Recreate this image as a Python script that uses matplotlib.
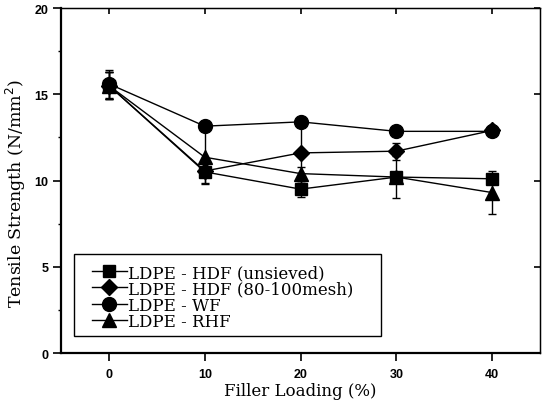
import matplotlib
matplotlib.use("Agg")
import matplotlib.pyplot as plt
from matplotlib.lines import Line2D
from matplotlib.patches import Rectangle
from matplotlib.ticker import MultipleLocator

# Filler loading (%)
loading = [0, 10, 20, 30, 40]

# Tensile strength (N/mm^2) and error bars for each composite
hdf_unsieved = [15.5, 10.5, 9.5, 10.2, 10.1]
hdf_unsieved_err = [0.8, 0.3, 0.45, 0.3, 0.25]

hdf_mesh = [15.5, 10.55, 11.6, 11.7, 12.9]
hdf_mesh_err = [0.8, 0.7, 1.8, 0.5, 0.25]

wf = [15.6, 13.15, 13.4, 12.85, 12.85]
wf_err = [0.8, 0.25, 0.3, 0.2, 0.2]

rhf = [15.5, 11.35, 10.4, 10.2, 9.3]
rhf_err = [0.8, 1.55, 0.4, 1.2, 1.25]

labels = ["LDPE - HDF (unsieved)", "LDPE - HDF (80-100mesh)",
          "LDPE - WF", "LDPE - RHF"]

serif = "DejaVu Serif"
sans = "Liberation Sans"

fig = plt.figure(figsize=(5.45, 4.02), dpi=100)
ax = fig.add_axes([0.112, 0.1194, 0.879, 0.8582])

series = [
    (hdf_unsieved, hdf_unsieved_err, "s", 8),
    (hdf_mesh, hdf_mesh_err, "D", 8),
    (wf, wf_err, "o", 10),
    (rhf, rhf_err, "^", 10),
]
handles = []
for (vals, err, mk, ms), lab in zip(series, labels):
    ax.errorbar(loading, vals, yerr=err, marker=mk, markersize=ms,
                color="black", linewidth=1.0, elinewidth=1.0,
                capsize=3, capthick=1.0)
    handles.append(Line2D([], [], color="black", marker=mk, markersize=ms,
                          linewidth=1.0, label=lab))

ax.set_xlim(-5, 45)
ax.set_ylim(0, 20)
ax.xaxis.set_major_locator(MultipleLocator(10))
ax.yaxis.set_major_locator(MultipleLocator(5))
ax.yaxis.set_minor_locator(MultipleLocator(2.5))

ax.tick_params(axis="both", which="major", direction="out", length=6,
               width=1.2, labelsize=9, pad=3)
ax.tick_params(axis="x", which="major", pad=5)
ax.tick_params(axis="y", which="minor", direction="out", length=2, width=1)
for lab in ax.get_xticklabels() + ax.get_yticklabels():
    lab.set_fontfamily(sans)
    lab.set_fontweight("bold")

for side in ["left", "bottom"]:
    ax.spines[side].set_linewidth(1.6)
for side in ["top", "right"]:
    ax.spines[side].set_linewidth(1.0)

# Inward ticks on the top and right frame
top = ax.secondary_xaxis("top")
top.xaxis.set_major_locator(MultipleLocator(10))
top.tick_params(direction="in", length=4, width=1.2, labeltop=False)
right = ax.secondary_yaxis("right")
right.yaxis.set_major_locator(MultipleLocator(5))
right.tick_params(direction="in", length=4, width=1.2, labelright=False)

ax.set_xlabel("Filler Loading (%)", fontfamily=serif, fontsize=12, labelpad=1)
ax.set_ylabel("Tensile Strength (N/mm$^2$)", fontfamily=serif, fontsize=12.5)
ax.yaxis.set_label_coords(-0.068, 0.465)

# Legend entries, with a separate box drawn around them
leg = ax.legend(handles=handles, loc="upper left",
                bbox_to_anchor=(0.064, 0.258), borderaxespad=0,
                frameon=False, handlelength=2.1, handletextpad=0.1,
                labelspacing=-0.04, borderpad=0,
                prop={"family": serif, "size": 12})
ax.add_patch(Rectangle((0.027, 0.05), 0.64, 0.237, transform=ax.transAxes,
                       facecolor="none", edgecolor="black", linewidth=1.0,
                       zorder=5))

fig.savefig("out.png", dpi=100)
